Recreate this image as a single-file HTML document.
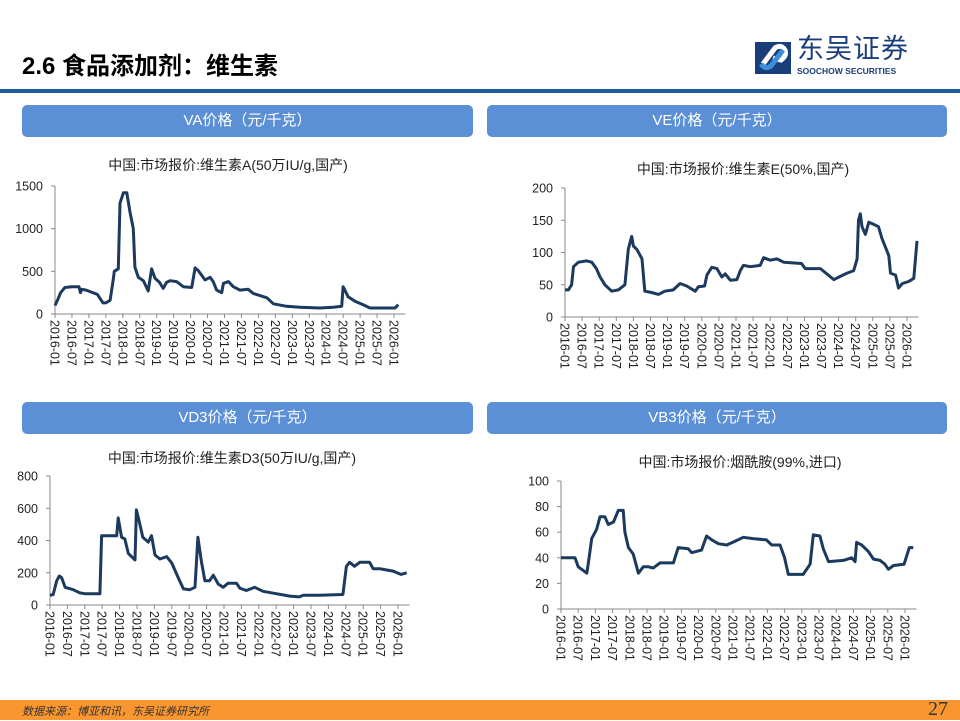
<!DOCTYPE html>
<html><head><meta charset="utf-8">
<style>
body{margin:0;width:960px;height:720px;overflow:hidden;background:#fff;font-family:"Liberation Sans","Noto Sans CJK SC",sans-serif;position:relative}
.hdr{position:absolute;left:22px;top:46px;font-size:24px;font-weight:bold;color:#000}
.rule{position:absolute;left:0;top:89px;width:960px;height:4px;background:#1f5f9a}
.pill{position:absolute;height:32px;background:#5b8fd6;border-radius:5px;color:#fff;font-size:15px;line-height:32px;text-align:center}
.foot{position:absolute;left:0;top:700px;width:960px;height:20px;background:#f9962f}
.foot .src{position:absolute;left:22px;top:3px;font-size:11px;font-style:italic;color:#333}
.foot .pg{position:absolute;right:12px;top:-2px;font-size:20px;font-family:"Liberation Serif",serif;color:#333}
svg{position:absolute;left:0;top:0}
</style></head><body>
<div class="hdr">2.6 食品添加剂：维生素</div>
<div style="position:absolute;left:755px;top:40px;width:180px;height:36px">
<svg width="36" height="34" viewBox="0 0 36 34" style="position:absolute;left:0;top:0"><rect x="0" y="2" width="36" height="32" fill="#1a3e7a"/><path d="M8 24 L20 8 Q26 4 30 10 Q32 16 26 20 L18 18" stroke="#fff" stroke-width="5" fill="none"/><path d="M28 10 L16 26 Q10 30 6 24" stroke="#3a8fd8" stroke-width="5" fill="none"/></svg>
<div style="position:absolute;left:42px;top:-8px;font-size:27px;line-height:34px;color:#1a3e7a;letter-spacing:1px">东吴证券</div>
<div style="position:absolute;left:42px;top:26px;font-size:8.5px;line-height:10px;font-weight:bold;color:#1a3e7a">SOOCHOW SECURITIES</div>
</div>
<div class="rule"></div>
<div class="pill" style="left:22px;top:105px;width:451px">VA价格（元/千克）</div>
<div class="pill" style="left:487px;top:105px;width:460px">VE价格（元/千克）</div>
<div class="pill" style="left:22px;top:402px;width:451px">VD3价格（元/千克）</div>
<div class="pill" style="left:487px;top:402px;width:460px">VB3价格（元/千克）</div>
<svg id="charts" width="960" height="720"></svg>
<div class="foot"><span class="src">数据来源：博亚和讯，东吴证券研究所</span><span class="pg">27</span></div>
<script>
const xLabels=["2016-01","2016-07","2017-01","2017-07","2018-01","2018-07","2019-01","2019-07","2020-01","2020-07","2021-01","2021-07","2022-01","2022-07","2023-01","2023-07","2024-01","2024-07","2025-01","2025-07","2026-01"];
const vaMonths=[0,1,2,3.5,6,8.5,9,9.5,11,15,17,18,19.5,20.6,21,22.4,23,24.2,25.4,26.5,27.7,28.3,29.5,31.3,33,34.2,35.4,37,38.3,39.5,40.7,43,45.4,48.4,49.6,50.7,53.1,54.9,56,57.2,59,59.6,61.4,63.1,65.5,68.4,70.2,75,77.3,82,86.7,93.8,98.5,101.5,102,103.8,106.2,109,111.5,120.4,121.5];
const vaValues=[100,170,250,310,320,320,250,290,280,230,130,130,160,400,500,530,1300,1420,1420,1200,1000,550,430,390,270,530,420,370,300,370,390,380,320,310,540,510,400,430,380,280,250,360,380,320,280,290,240,190,120,90,80,70,80,90,320,200,150,110,70,70,110];
const vaTicks=[0,500,1000,1500];
const veMonths=[0,1.2,2.3,3,4.7,7.6,9.4,11,12.3,14,16.4,18.7,21,22.2,23.4,24,25.2,27,28,30.4,32.8,35,38,40.4,42.7,45.7,46.8,49,49.8,51.5,53.3,55,56.2,58,60.3,61.5,62.6,65,68.5,69.7,72,74.4,76.7,83,84.3,89.6,94.3,96.6,99,101.3,102.5,103,103.6,104.2,105.4,106.6,107.7,110,111.2,113.6,114.2,116,117,118.4,120.6,122.4,123.5];
const veValues=[42,42,50,78,85,87,85,75,62,50,40,42,50,105,125,110,105,90,40,38,35,40,42,52,48,40,47,48,65,77,75,62,67,57,58,72,80,78,80,92,88,90,85,83,75,75,58,63,68,72,90,150,160,140,128,147,145,140,122,95,68,65,45,52,55,60,118];
const veTicks=[0,50,100,150,200];
const vd3Months=[0,1.1,2.3,3.2,4,5.2,8,10.3,12,17.2,17.8,23,23.5,24.7,25.8,27,29.3,29.8,31,32,33.9,35,36.2,37.9,40.2,42,44.2,46,48.2,50,51,52.2,53.4,55,56.3,58,59.7,61.4,64.3,65.4,67.7,70.6,73.5,78,82.7,86,87.3,93,101,102.2,103.3,105,106.8,110.2,111.4,113.7,118.3,121,123];
const vd3Values=[60,65,150,180,170,110,95,75,70,70,430,430,540,420,410,320,280,590,500,420,390,430,310,285,300,260,170,100,95,110,420,270,150,150,185,130,110,135,135,105,90,110,85,70,55,50,60,60,65,240,265,240,265,265,225,225,210,190,200];
const vd3Ticks=[0,200,400,600,800];
const vb3Months=[0,4.9,6,7.8,9,9.5,10.7,12.4,13.6,15.3,16.5,18.3,20,21.7,22.3,23.5,25.2,27,28.7,30.5,32.2,34.5,39.2,40.9,44.4,45.6,49,50.8,52.6,54.9,57.8,60.7,63.6,67,71.7,73.5,76.4,78,79.3,84.5,86.9,88,90.3,91.5,93.3,98.5,101.4,102.6,103.1,104.9,107.2,109,111.3,113,114.2,116,119.7,121.5,122.9];
const vb3Values=[40,40,33,30,28,35,55,62,72,72,66,68,77,77,60,48,43,28,33,33,32,36,36,48,47,44,46,57,54,51,50,53,56,55,54,50,50,40,27,27,35,58,57,47,37,38,40,37,52,50,45,39,38,35,31,34,35,48,48];
const vb3Ticks=[0,20,40,60,80,100];

const NS="http://www.w3.org/2000/svg";
const svg=document.getElementById('charts');
function mk(tag,attrs,parent){const e=document.createElementNS(NS,tag);for(const k in attrs)e.setAttribute(k,attrs[k]);(parent||svg).appendChild(e);return e;}
function chart(key,title,titleX,titleY,x0,x2026,yTop,yBot,ticks,months,values){
  const maxV=ticks[ticks.length-1];
  const g=mk('g',{});
  
  
  const xs=m=>x0+(x2026-x0)*m/120;
  const ys=v=>yBot-(yBot-yTop)*v/maxV;
  const t=mk('text',{x:titleX,y:titleY,'text-anchor':'middle','font-size':14,fill:'#222','font-family':'"Liberation Sans","Noto Sans CJK SC",sans-serif'},g);
  t.textContent=title;
  
  
  const ax=mk('path',{d:`M${x0} ${yTop} V${yBot} H${xs(124)}`,stroke:'#888',fill:'none','stroke-width':1},g);
  
  
  ticks.forEach(v=>{
    const tl=mk('text',{x:x0-12,y:ys(v)+4.5,'text-anchor':'end','font-size':12.5,fill:'#222','font-family':'"Liberation Sans",sans-serif'},g);
    tl.textContent=v;
    
    
    mk('line',{x1:x0-4,x2:x0,y1:ys(v),y2:ys(v),stroke:'#888'},g);
  });
  xLabels.forEach((lab,i)=>{
    const x=xs(i*6);
    mk('line',{x1:x,x2:x,y1:yBot,y2:yBot+4,stroke:'#888'},g);
    const tl=mk('text',{transform:`translate(${x-4.5},${yBot+6}) rotate(90)`,'font-size':12.5,fill:'#222','font-family':'"Liberation Sans",sans-serif'},g);
    tl.textContent=lab;
    
    
  });
  const pts=months.map((m,i)=>xs(m).toFixed(1)+','+ys(values[i]).toFixed(1)).join(' ');
  const ln=mk('polyline',{points:pts,fill:'none',stroke:'#1c3a5e','stroke-width':3,'stroke-linejoin':'round'},g);
  
  
}
chart('va','中国:市场报价:维生素A(50万IU/g,国产)',228,170,55,394,186,314,vaTicks,vaMonths,vaValues);
chart('ve','中国:市场报价:维生素E(50%,国产)',743,174,565,907,188,317,veTicks,veMonths,veValues);
chart('vd3','中国:市场报价:维生素D3(50万IU/g,国产)',232,463,50,398,476,605,vd3Ticks,vd3Months,vd3Values);
chart('vb3','中国:市场报价:烟酰胺(99%,进口)',740,467,561,905,481,609,vb3Ticks,vb3Months,vb3Values);
</script>
</body></html>
